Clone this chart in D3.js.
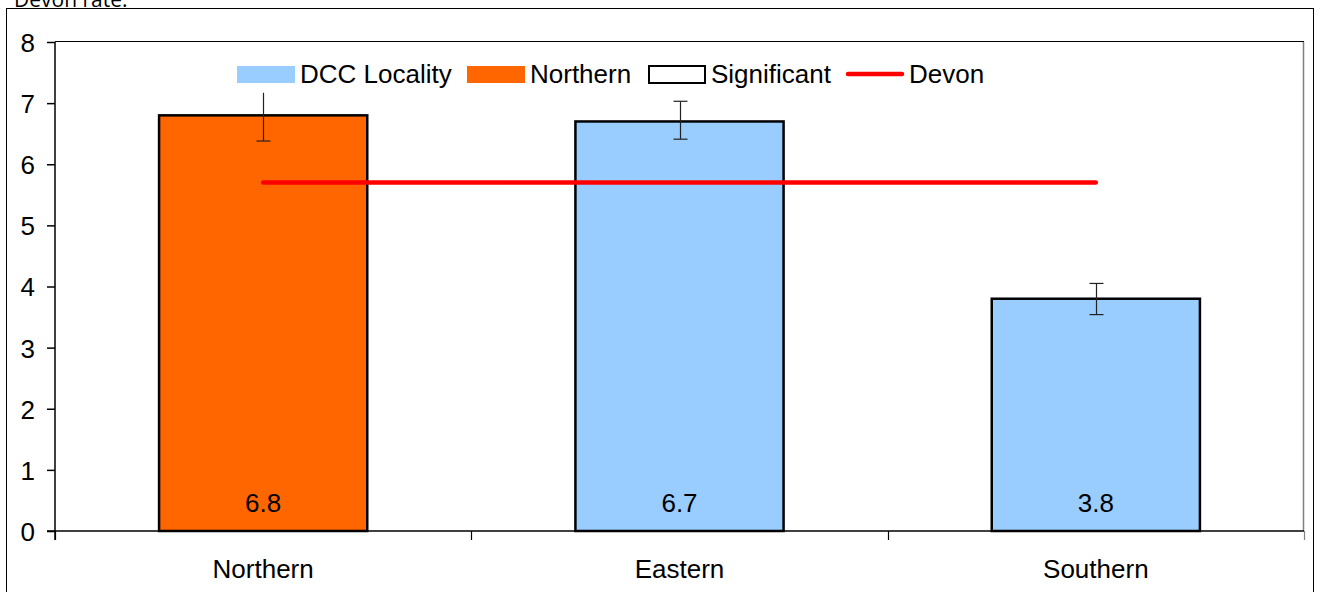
<!DOCTYPE html>
<html>
<head>
<meta charset="utf-8">
<script src="https://cdn.jsdelivr.net/npm/d3@7"></script>
<style>
  html, body { margin: 0; padding: 0; background: #fff; }
  svg { display: block; }
  text { font-family: "Liberation Sans", Arial, sans-serif; }
</style>
</head>
<body>
<script>
const categories = ["Northern", "Eastern", "Southern"];
const values = [6.8, 6.7, 3.8];
const lowerCI = [6.38, 6.41, 3.54];
const upperCI = [7.17, 7.03, 4.05];
const devonRate = 5.7;
const barColors = ["#FF6600", "#99CCFF", "#99CCFF"];
const yTicks = [0, 1, 2, 3, 4, 5, 6, 7, 8];
const legendItems = [
  { label: "DCC Locality", type: "rect", fill: "#99CCFF", stroke: "none" },
  { label: "Northern", type: "rect", fill: "#FF6600", stroke: "none" },
  { label: "Significant", type: "rect", fill: "#FFFFFF", stroke: "#000" },
  { label: "Devon", type: "line", stroke: "#FF0000" }
];

const W = 1321, H = 592;
const svg = d3.select("body").append("svg").attr("width", W).attr("height", H);

// title fragment (cut off at top, as in the original)
svg.append("text").attr("x", 14).attr("y", 7)
  .style("font-family", "'Open Sans', sans-serif").style("font-size", "21px")
  .attr("fill", "#000").text("Devon rate.");

// outer chart border
svg.append("rect").attr("x", 6.5).attr("y", 8.5).attr("width", 1307).attr("height", 620)
  .attr("fill", "none").attr("stroke", "#000").attr("stroke-width", 1);

const plot = { left: 55, right: 1304, top: 42, bottom: 531 };

const x = d3.scaleBand().domain(categories).range([plot.left, plot.right])
  .paddingInner(0.5).paddingOuter(0.25);
const y = d3.scaleLinear().domain([0, 8]).range([plot.bottom, plot.top]);

// plot area border (top black, right gray)
svg.append("line").attr("x1", plot.left).attr("x2", plot.right).attr("y1", plot.top - 0.5).attr("y2", plot.top - 0.5)
  .attr("stroke", "#000").attr("stroke-width", 1);
svg.append("line").attr("x1", plot.right - 0.5).attr("x2", plot.right - 0.5).attr("y1", plot.top).attr("y2", plot.bottom)
  .attr("stroke", "#808080").attr("stroke-width", 1.5);

// bars
svg.append("g").selectAll("rect").data(categories).join("rect")
  .attr("x", d => x(d)).attr("y", (d, i) => y(values[i]))
  .attr("width", x.bandwidth()).attr("height", (d, i) => y(0) - y(values[i]))
  .attr("fill", (d, i) => barColors[i]).attr("stroke", "#000").attr("stroke-width", 2.5);

// value labels in bars
svg.append("g").selectAll("text").data(categories).join("text")
  .attr("x", d => x(d) + x.bandwidth() / 2).attr("y", 512)
  .attr("text-anchor", "middle").style("font-size", "26px").attr("fill", "#000")
  .text((d, i) => values[i].toFixed(1));

// error bars
const eb = svg.append("g").attr("stroke", "#222").attr("stroke-width", 1.2);
categories.forEach((c, i) => {
  const cx = Math.round(x(c) + x.bandwidth() / 2) + 0.5;
  eb.append("line").attr("x1", cx).attr("x2", cx).attr("y1", y(upperCI[i])).attr("y2", y(lowerCI[i]));
  eb.append("line").attr("x1", cx - 7).attr("x2", cx + 7).attr("y1", y(lowerCI[i])).attr("y2", y(lowerCI[i]));
  if (i > 0) eb.append("line").attr("x1", cx - 7).attr("x2", cx + 7).attr("y1", y(upperCI[i])).attr("y2", y(upperCI[i]));
});

// Devon line
svg.append("line")
  .attr("x1", x(categories[0]) + x.bandwidth() / 2)
  .attr("x2", x(categories[categories.length - 1]) + x.bandwidth() / 2)
  .attr("y1", y(devonRate)).attr("y2", y(devonRate))
  .attr("stroke", "#FF0000").attr("stroke-width", 4.5).attr("stroke-linecap", "round");

// y axis
const yAxis = svg.append("g").attr("transform", `translate(${plot.left},0)`)
  .call(d3.axisLeft(y).tickValues(yTicks).tickSize(8).tickPadding(12).tickFormat(d3.format("d")));
yAxis.select(".domain").attr("stroke", "#000").attr("stroke-width", 1.5).attr("d", `M0,${plot.top}V${plot.bottom + 9}`);
yAxis.selectAll(".tick line").attr("stroke", "#000").attr("stroke-width", 1.5);
yAxis.selectAll(".tick text").style("font-size", "26px").style("font-family", "'Liberation Sans', Arial, sans-serif").attr("fill", "#000").attr("dy", "0.36em");

// x axis
const xAxis = svg.append("g").attr("transform", `translate(0,${plot.bottom})`);
xAxis.append("line").attr("x1", plot.left - 8).attr("x2", plot.right).attr("y1", 0).attr("y2", 0)
  .attr("stroke", "#000").attr("stroke-width", 1.5);
const boundaries = [plot.left].concat(categories.map(c => x(c) + x.bandwidth() / 2 + x.step() / 2));
xAxis.selectAll("line.tk").data(boundaries).join("line").attr("class", "tk")
  .attr("x1", d => Math.round(d) + 0.5).attr("x2", d => Math.round(d) + 0.5).attr("y1", 0).attr("y2", 9)
  .attr("stroke", (d, i) => i === boundaries.length - 1 ? "#808080" : "#000").attr("stroke-width", 1.2);
xAxis.selectAll("text").data(categories).join("text")
  .attr("x", d => x(d) + x.bandwidth() / 2).attr("y", 47)
  .attr("text-anchor", "middle").style("font-size", "26px").attr("fill", "#000").text(d => d);

// legend
const legendX = [237, 467, 648, 846];
const lg = svg.append("g");
legendItems.forEach((it, i) => {
  const g = lg.append("g").attr("transform", `translate(${legendX[i]},65)`);
  if (it.type === "rect") {
    g.append("rect").attr("x", it.stroke === "none" ? 0 : 1).attr("y", 1)
      .attr("width", it.stroke === "none" ? 58 : 56).attr("height", 17)
      .attr("fill", it.fill).attr("stroke", it.stroke).attr("stroke-width", 2);
  } else {
    g.append("line").attr("x1", 2).attr("x2", 56).attr("y1", 9).attr("y2", 9)
      .attr("stroke", it.stroke).attr("stroke-width", 4.5).attr("stroke-linecap", "round");
  }
  g.append("text").attr("x", 63).attr("y", 18).style("font-size", "26px").attr("fill", "#000").text(it.label);
});
</script>
</body>
</html>
